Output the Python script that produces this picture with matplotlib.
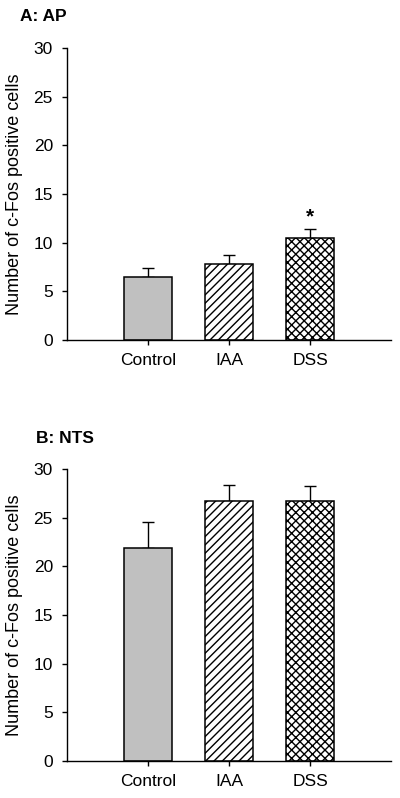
import matplotlib
matplotlib.use("Agg")
import matplotlib.pyplot as plt

plt.rcParams['font.family'] = ['Liberation Sans', 'DejaVu Sans']
plt.rcParams['hatch.linewidth'] = 1.0

groups = ["Control", "IAA", "DSS"]
ap_mean = [6.45, 7.8, 10.5]
ap_err = [0.95, 0.9, 0.9]
nts_mean = [21.9, 26.75, 26.7]
nts_err = [2.7, 1.65, 1.6]

colors = ["#c0c0c0", "white", "white"]
hatches = [None, "////", "xxxx"]


def draw_panel(ax, means, errs, star=None):
    x = [1, 2, 3]
    for xi, m, e, c, h in zip(x, means, errs, colors, hatches):
        ax.bar(xi, m, width=0.6, color=c, edgecolor="black", linewidth=1.1,
               hatch=h, zorder=2)
        ax.errorbar(xi, m, yerr=[[0], [e]], fmt="none", ecolor="black",
                    elinewidth=1.0, capsize=4, capthick=1.0, zorder=1)
    if star is not None:
        i = star
        ax.text(x[i], means[i] + errs[i] + 0.3, "*", ha="center", va="bottom",
                fontsize=15, fontweight="bold")
    ax.set_xlim(0, 4)
    ax.set_ylim(0, 30)
    ax.set_yticks([0, 5, 10, 15, 20, 25, 30])
    ax.set_xticks(x)
    ax.set_xticklabels(groups, fontsize=12.5)
    ax.tick_params(axis="y", labelsize=12.5, direction="out", length=3.6, width=1, pad=6.5)
    ax.tick_params(axis="x", direction="out", length=3.6, width=1, pad=6)
    for s in ["top", "right"]:
        ax.spines[s].set_visible(False)
    for s in ["left", "bottom"]:
        ax.spines[s].set_linewidth(1.0)
    ax.set_ylabel("Number of c-Fos positive cells", fontsize=13)
    ax.yaxis.set_label_coords(-0.135, 0.5)


fig = plt.figure(figsize=(4.0, 7.98), dpi=100)
ax1 = fig.add_axes([0.1675, 0.574, 0.81, 0.366])
ax2 = fig.add_axes([0.1675, 0.0464, 0.81, 0.3656])

draw_panel(ax1, ap_mean, ap_err, star=2)
draw_panel(ax2, nts_mean, nts_err)

fig.text(0.05, 0.9787, "A: AP", fontsize=12.5, fontweight="bold", va="center")
fig.text(0.09, 0.451, "B: NTS", fontsize=12.5, fontweight="bold", va="center")

fig.savefig("out.png", dpi=100)
